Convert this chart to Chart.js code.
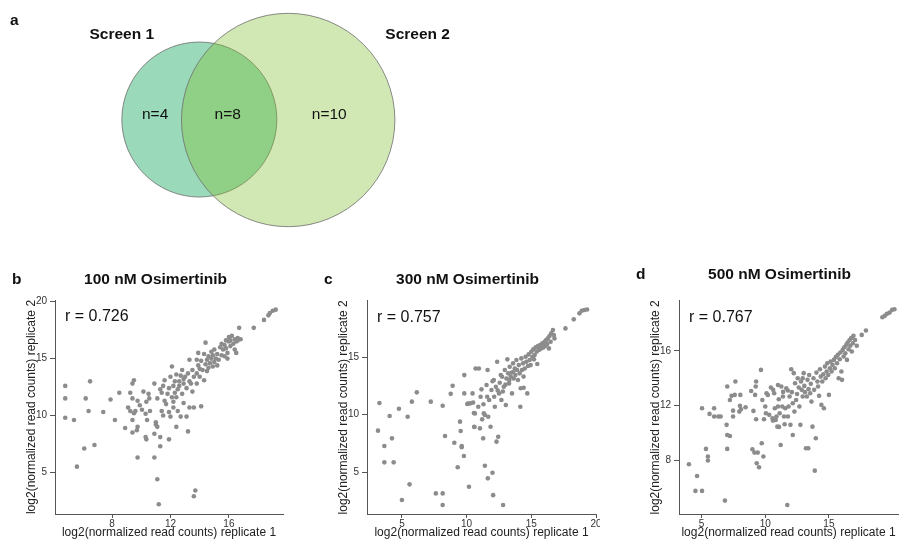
<!DOCTYPE html>
<html>
<head>
<meta charset="utf-8">
<script src="https://cdn.jsdelivr.net/npm/chart.js@4.4.0/dist/chart.umd.min.js"></script>
<style>
html, body { margin: 0; padding: 0; background: #fff; overflow: hidden; }
body { width: 902px; height: 544px; position: relative; }
canvas { position: absolute; }
</style>
</head>
<body>
<canvas id="venn" width="902" height="240" style="left:0px;top:0px"></canvas>
<canvas id="scatB" width="300" height="282" style="left:0px;top:262px"></canvas>
<canvas id="scatC" width="288" height="282" style="left:312px;top:262px"></canvas>
<canvas id="scatD" width="278" height="282" style="left:624px;top:262px"></canvas>
<script>
// ---- venn (panel a) ----
var vennSets = ['Screen 1', 'Screen 2'];
var vennCounts = ['n=4', 'n=8', 'n=10']; // screen 1 only, both, screen 2 only
var vennCx = [22.1, 31.95];
var vennCy = [50.2, 50];
var vennR = [77.5, 106.7];

// ---- scatter panels b, c, d ----
var bRep1 = [
  4.8, 4.8, 4.8, 5.4, 5.6, 6.1, 6.2, 6.5, 6.4, 6.8,
  7.4, 7.9, 8.2, 8.5, 8.9, 9.1, 9.25, 9.25, 9.4, 9.5,
  9.4, 9.5, 9.4, 9.6, 9.75, 9.9, 10.05, 10.15, 10.35, 10.5,
  10.6, 10.55, 10.3, 10.4, 9.7, 9.75, 9.4, 10.3, 10.35, 10.9,
  10.9, 9.75, 11.1, 11.0, 11.3, 11.3, 11.1, 11.2, 10.9, 11.0,
  11.1, 11.3, 11.4, 11.5, 11.5, 11.6, 11.6, 11.7, 11.8, 11.9,
  11.9, 11.9, 12.0, 12.0, 12.1, 12.1, 12.2, 12.2, 12.3, 12.3,
  12.4, 12.4, 12.4, 12.5, 12.5, 12.6, 12.7, 12.7, 12.8, 12.8,
  12.9, 12.9, 13.0, 13.1, 13.1, 13.2, 13.2, 13.3, 13.3, 13.3,
  13.5, 13.5, 13.6, 13.6, 13.6, 13.7, 13.8, 13.8, 13.8, 13.9,
  14.0, 14.0, 14.1, 14.1, 14.2, 14.3, 14.3, 14.4, 14.4, 14.5,
  14.5, 14.6, 14.7, 14.8, 14.8, 14.9, 14.9, 15.0, 15.0, 15.1,
  15.2, 15.2, 15.3, 15.4, 15.5, 15.5, 15.6, 15.7, 15.7, 15.8,
  15.9, 15.9, 16.0, 16.0, 16.1, 16.1, 16.2, 16.3, 16.4, 16.4,
  16.5, 16.5, 16.6, 16.6, 16.7, 16.8, 17.7, 18.4, 18.7, 18.8,
  19.0, 19.2, 12.2, 11.4, 12.6, 13.4, 14.6, 15.8, 12.9, 13.9
];
var bRep2 = [
  12.6, 11.5, 9.8, 9.6, 5.5, 7.1, 11.5, 13.0, 10.4, 7.4,
  10.3, 11.4, 9.6, 12.0, 8.9, 10.7, 12.0, 10.4, 11.5, 13.1,
  12.8, 10.2, 9.6, 10.4, 11.3, 10.9, 10.5, 12.1, 11.2, 11.9,
  10.4, 11.5, 10.15, 9.6, 8.7, 9.0, 8.5, 8.1, 7.9, 8.4,
  6.3, 6.3, 9.0, 9.4, 8.1, 7.3, 4.4, 2.2, 12.8, 9.2,
  11.5, 12.3, 10.4, 10.0, 12.6, 11.3, 13.1, 11.0, 11.9, 12.4,
  10.3, 7.9, 9.9, 13.4, 14.3, 11.6, 10.7, 12.6, 12.0, 13.0,
  11.6, 9.0, 13.6, 10.4, 12.3, 13.0, 9.9, 13.5, 11.9, 14.0,
  11.1, 12.8, 13.4, 9.9, 12.4, 8.6, 13.7, 10.7, 14.9, 13.0,
  14.0, 12.1, 13.4, 10.7, 2.9, 3.4, 14.9, 13.7, 12.8, 15.5,
  14.1, 13.4, 10.8, 14.8, 14.0, 15.4, 13.1, 14.5, 16.4, 14.9,
  13.9, 15.2, 14.6, 15.6, 15.0, 14.3, 15.3, 14.7, 15.8, 15.0,
  14.4, 15.4, 14.9, 16.0, 15.3, 16.3, 15.8, 15.2, 16.2, 16.6,
  15.5, 15.0, 16.5, 16.9, 16.1, 16.6, 17.0, 16.3, 16.7, 15.8,
  16.5, 15.5, 16.8, 16.6, 17.7, 16.7, 17.7, 18.4, 18.8, 19.0,
  19.2, 19.3, 11.2, 12.0, 12.6, 12.8, 14.2, 15.9, 13.2, 14.4
];

var cRep1 = [
  3.15, 3.26, 3.64, 3.64, 4.05, 4.23, 4.36, 5.0, 5.44, 5.59,
  5.77, 6.15, 7.23, 7.62, 8.15, 8.15, 8.15, 8.33, 8.77, 8.92,
  9.05, 9.31, 9.49, 9.54, 9.62, 9.62, 9.79, 9.82, 9.82, 10.05,
  10.18, 10.26, 10.46, 10.59, 10.64, 10.69, 10.95, 10.9, 11.03, 11.08,
  11.15, 11.2, 11.28, 11.33, 11.41, 11.41, 11.54, 11.59, 11.62, 11.64,
  11.67, 11.74, 11.85, 11.92, 12.0, 12.05, 12.1, 12.13, 12.18, 12.26,
  12.31, 12.36, 12.44, 12.51, 12.56, 12.64, 12.69, 12.74, 12.82, 12.87,
  12.95, 13.03, 13.08, 13.15, 13.21, 13.28, 13.33, 13.41, 13.46, 13.51,
  13.59, 13.64, 13.72, 13.77, 13.85, 13.9, 13.97, 14.03, 14.1, 14.15,
  14.18, 14.23, 14.28, 14.36, 14.41, 14.49, 14.56, 14.62, 14.69, 14.74,
  14.79, 14.87, 14.95, 15.0, 15.08, 15.15, 15.26, 15.33, 15.41, 15.46,
  15.51, 15.59, 15.67, 15.77, 15.85, 15.92, 16.03, 16.08, 16.15, 16.23,
  16.28, 16.36, 16.41, 16.49, 16.54, 16.67, 16.74, 16.79, 17.64, 18.28,
  18.72, 18.9, 19.1, 19.31, 4.77, 10.1, 10.5, 10.56, 10.6, 12.0,
  12.4, 13.0, 13.6, 14.4, 15.2, 11.3, 12.8, 13.3
];
var cRep2 = [
  8.6, 11.0, 7.26, 5.84, 9.87, 7.93, 5.84, 2.57, 9.81, 3.93,
  11.12, 11.93, 11.12, 3.14, 3.14, 10.77, 2.13, 8.13, 11.8, 12.5,
  7.55, 5.41, 9.38, 8.57, 7.26, 7.15, 6.39, 13.43, 11.84, 10.91,
  3.72, 10.97, 11.84, 8.94, 10.1, 14.01, 14.01, 10.68, 8.8, 11.55,
  12.19, 9.58, 7.93, 10.1, 5.55, 9.96, 12.57, 11.55, 13.87, 4.45,
  9.81, 11.26, 8.94, 12.13, 4.94, 2.99, 13.0, 11.55, 10.68, 12.42,
  7.64, 14.59, 8.07, 11.84, 12.77, 13.43, 11.26, 13.29, 2.13, 12.42,
  13.87, 10.83, 13.14, 14.8, 13.58, 12.71, 14.16, 13.29, 13.64, 11.84,
  14.45, 13.14, 14.01, 13.43, 14.74, 13.87, 13.0, 14.3, 13.58, 10.68,
  12.28, 14.88, 13.87, 14.45, 12.33, 14.01, 15.03, 14.59, 11.84, 14.22,
  15.23, 14.74, 14.3, 15.46, 15.03, 15.67, 15.17, 15.84, 15.46, 14.39,
  15.96, 15.61, 16.04, 15.75, 16.19, 15.84, 16.33, 15.96, 16.48, 16.13,
  16.62, 15.75, 16.83, 16.33, 17.06, 17.35, 16.91, 16.62, 17.49, 18.28,
  18.8, 19.03, 19.09, 19.14, 10.5, 10.96, 11.04, 10.14, 8.92, 12.9,
  12.1, 12.6, 13.7, 13.3, 14.8, 10.9, 12.0, 13.0
];

var dRep1 = [
  4.0, 4.64, 4.51, 5.03, 5.03, 5.34, 5.49, 5.49, 5.62, 5.98,
  5.98, 6.31, 6.49, 6.83, 6.96, 7.01, 7.01, 7.22, 7.01, 7.22,
  7.35, 7.47, 7.47, 7.6, 7.65, 7.96, 8.01, 8.04, 8.09, 8.45,
  8.89, 8.99, 9.07, 9.15, 9.2, 9.25, 9.28, 9.33, 9.41, 9.51,
  9.66, 9.72, 9.77, 9.85, 9.9, 10.0, 10.1, 10.2, 10.31, 10.44,
  10.57, 10.62, 10.7, 10.75, 10.82, 10.88, 10.95, 11.0, 11.06, 11.13,
  11.21, 11.26, 11.34, 11.39, 11.47, 11.52, 11.57, 11.65, 11.73, 11.78,
  11.83, 11.91, 11.98, 12.04, 12.09, 12.16, 12.16, 12.24, 12.29, 12.34,
  12.42, 12.5, 12.55, 12.63, 12.68, 12.76, 12.81, 12.86, 12.94, 12.94,
  13.02, 13.07, 13.12, 13.2, 13.27, 13.32, 13.38, 13.4, 13.45, 13.53,
  13.58, 13.63, 13.71, 13.79, 13.84, 13.89, 13.97, 14.02, 14.1, 14.15,
  14.23, 14.3, 14.36, 14.41, 14.48, 14.56, 14.61, 14.69, 14.74, 14.82,
  14.87, 14.95, 15.0, 15.08, 15.13, 15.21, 15.28, 15.39, 15.46, 15.54,
  15.64, 15.7, 15.77, 15.85, 15.9, 15.98, 16.03, 16.08, 16.16, 16.21,
  16.29, 16.37, 16.42, 16.47, 16.55, 16.62, 16.68, 16.75, 16.8, 16.88,
  16.93, 17.06, 17.19, 17.58, 17.91, 19.2, 19.38, 19.56, 19.77, 19.97,
  20.15, 9.28, 10.05, 10.6, 11.08, 11.0, 11.4, 11.77
];
var dRep2 = [
  7.71, 6.85, 5.76, 5.76, 11.8, 8.83, 8.27, 7.98, 11.39, 11.8,
  11.2, 11.2, 11.2, 5.05, 10.59, 13.39, 9.85, 9.78, 8.83, 12.41,
  12.71, 11.2, 11.63, 12.78, 13.76, 11.56, 11.98, 12.78, 11.73, 11.88,
  13.07, 8.8, 11.61, 8.56, 12.78, 13.39, 13.76, 7.78, 8.56, 7.49,
  14.61, 9.24, 12.41, 8.27, 11.0, 11.93, 12.9, 12.78, 11.32, 13.32,
  11.07, 13.15, 12.9, 11.8, 10.95, 11.2, 10.46, 11.93, 12.46, 11.44,
  9.12, 13.39, 11.93, 12.66, 11.2, 10.63, 11.8, 13.27, 4.73, 11.2,
  11.93, 12.66, 10.59, 14.66, 12.98, 12.17, 9.85, 14.37, 11.56, 13.63,
  12.41, 12.85, 14.0, 13.32, 11.93, 10.59, 13.76, 13.15, 12.66, 14.0,
  14.37, 13.44, 12.98, 8.88, 12.66, 13.88, 8.88, 13.2, 14.24, 12.9,
  13.59, 12.29, 10.46, 14.0, 13.15, 7.24, 9.61, 14.41, 13.76, 13.39,
  12.71, 14.66, 14.12, 12.05, 13.76, 14.29, 11.8, 14.85, 14.0, 14.49,
  15.1, 14.24, 12.78, 14.73, 15.22, 14.49, 14.98, 15.34, 14.73, 15.54,
  15.1, 15.71, 14.0, 15.39, 15.88, 14.49, 13.88, 16.07, 15.59, 16.27,
  15.83, 16.44, 15.34, 16.61, 16.12, 16.8, 16.37, 16.93, 15.95, 16.56,
  17.1, 16.8, 16.37, 17.17, 17.49, 18.46, 18.56, 18.71, 18.8, 19.0,
  19.05, 11.0, 11.44, 10.9, 10.44, 13.5, 13.0, 13.1
];

var bXTicks = [8, 12, 16], bYTicks = [5, 10, 15, 20];
var cXTicks = [5, 10, 15, 20], cYTicks = [5, 10, 15];
var dXTicks = [5, 10, 15], dYTicks = [8, 12, 16];

var FONT = '"Liberation Sans", Arial, Helvetica, sans-serif';
Chart.defaults.font.family = FONT;

// text drawn over each scatter: panel letter, title, r value
var panelText = {
  id: 'panelText',
  afterDraw: function(chart, args, o) {
    var ctx = chart.ctx, a = chart.chartArea;
    ctx.save();
    ctx.fillStyle = '#111';
    ctx.textBaseline = 'middle';
    ctx.font = 'bold 15.5px ' + FONT;
    ctx.textAlign = 'left';
    ctx.fillText(o.letter, a.left - 43, a.top + o.titleDy);
    ctx.textAlign = 'center';
    ctx.fillText(o.title, a.left + 100.5, a.top + o.titleDy);
    ctx.font = '16px ' + FONT;
    ctx.textAlign = 'left';
    ctx.fillText(o.r, a.left + 10, a.top + 16.5);
    ctx.restore();
  }
};

function axisOpts(min, max, ticks, title, vertical) {
  return {
    type: 'linear',
    min: min,
    max: max,
    afterBuildTicks: function(s) { s.ticks = ticks.map(function(v) { return {value: v}; }); },
    afterFit: function(s) {
      if (vertical) { s.width = 55; s.paddingTop = 0; s.paddingBottom = 0; }
      else { s.height = 30; s.paddingLeft = 0; s.paddingRight = 0; }
    },
    grid: { display: true, drawOnChartArea: false, drawTicks: true, tickLength: vertical ? 5 : 4, color: '#555', lineWidth: 1 },
    border: { display: true, color: '#555', width: 1 },
    ticks: { font: { size: 10 }, color: '#333', padding: vertical ? 3 : 0, autoSkip: false, maxRotation: 0 },
    title: { display: true, text: title, font: { size: 12 }, color: '#222',
             padding: vertical ? { top: 24.5, bottom: 0 } : { top: 0, bottom: 4 } }
  };
}

function scatterPanel(id, xs, ys, o) {
  var pts = xs.map(function(v, i) { return {x: v, y: ys[i]}; });
  return new Chart(document.getElementById(id), {
    type: 'scatter',
    data: { datasets: [{ data: pts, pointRadius: 2.3, pointBackgroundColor: '#8c8c8c', pointBorderWidth: 0 }] },
    options: {
      responsive: false, animation: false, devicePixelRatio: 1, events: [],
      layout: { padding: { top: o.padTop, right: o.padRight, left: 0, bottom: 0 } },
      plugins: {
        legend: { display: false }, tooltip: { enabled: false },
        panelText: { letter: o.letter, title: o.title, r: o.r, titleDy: o.titleDy }
      },
      scales: {
        x: axisOpts(o.xMin, o.xMax, o.xTicks, 'log2(normalized read counts) replicate 1', false),
        y: axisOpts(o.yMin, o.yMax, o.yTicks, 'log2(normalized read counts) replicate 2', true)
      }
    },
    plugins: [panelText]
  });
}

scatterPanel('scatB', bRep1, bRep2, {
  letter: 'b', title: '100 nM Osimertinib', r: 'r = 0.726', titleDy: -20,
  padTop: 38, padRight: 17, xMin: 4.1, xMax: 19.7, yMin: 1.34, yMax: 20.15,
  xTicks: bXTicks, yTicks: bYTicks
});
scatterPanel('scatC', cRep1, cRep2, {
  letter: 'c', title: '300 nM Osimertinib', r: 'r = 0.757', titleDy: -20.7,
  padTop: 38.7, padRight: 3.3, xMin: 2.3, xMax: 20, yMin: 1.35, yMax: 19.9,
  xTicks: cXTicks, yTicks: cYTicks
});
scatterPanel('scatD', dRep1, dRep2, {
  letter: 'd', title: '500 nM Osimertinib', r: 'r = 0.767', titleDy: -25.7,
  padTop: 38.7, padRight: 0, xMin: 3.22, xMax: 20.43, yMin: 4.07, yMax: 19.67,
  xTicks: dXTicks, yTicks: dYTicks
});

// venn labels
var vennText = {
  id: 'vennText',
  afterDatasetsDraw: function(chart, args, o) {
    var ctx = chart.ctx, xs = chart.scales.x, ys = chart.scales.y;
    ctx.save();
    ctx.fillStyle = '#111';
    ctx.textBaseline = 'middle';
    ctx.font = 'bold 15.5px ' + FONT;
    ctx.textAlign = 'left';
    ctx.fillText('a', 10, 21);
    ctx.textAlign = 'center';
    vennSets.forEach(function(s, i) {
      ctx.fillText(s, xs.getPixelForValue(o.setAt[i][0]), ys.getPixelForValue(o.setAt[i][1]));
    });
    ctx.font = '15.5px ' + FONT;
    vennCounts.forEach(function(s, i) {
      ctx.fillText(s, xs.getPixelForValue(o.countAt[i][0]), ys.getPixelForValue(o.countAt[i][1]));
    });
    ctx.restore();
  }
};

new Chart(document.getElementById('venn'), {
  type: 'bubble',
  data: {
    datasets: [{
      data: vennCx.map(function(x, i) { return {x: x, y: vennCy[i], r: vennR[i]}; }),
      backgroundColor: ['#9ad9b9', 'rgba(126,189,41,0.35)'],
      borderColor: 'rgba(110,110,110,0.8)',
      borderWidth: 1,
      clip: false
    }]
  },
  options: {
    responsive: false, animation: false, devicePixelRatio: 1, events: [],
    layout: { padding: 0, autoPadding: false },
    plugins: {
      legend: { display: false }, tooltip: { enabled: false },
      vennText: { setAt: [[13.5, 85.4], [46.3, 85.4]], countAt: [[17.2, 52.1], [25.25, 52.1], [36.5, 52.1]] }
    },
    scales: {
      x: { display: false, min: 0, max: 100 },
      y: { display: false, min: 0, max: 100 }
    }
  },
  plugins: [vennText]
});
</script>
</body>
</html>
